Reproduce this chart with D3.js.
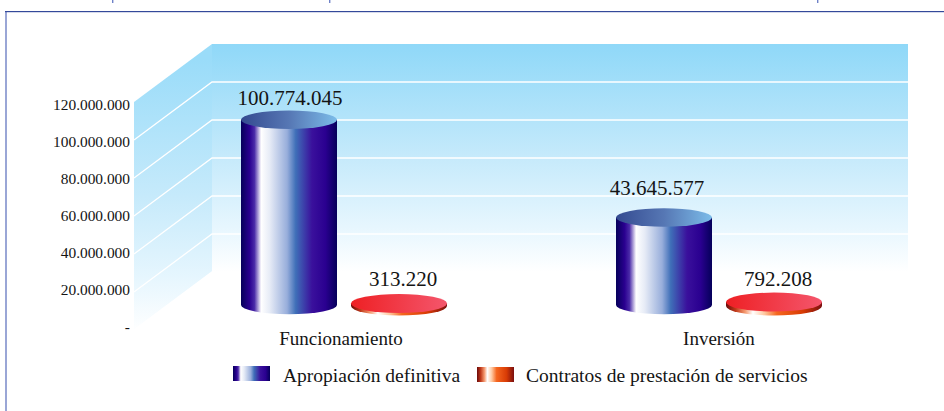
<!DOCTYPE html>
<html><head><meta charset="utf-8">
<script src="https://cdn.jsdelivr.net/npm/d3@7"></script>
<style>html,body{margin:0;padding:0;background:#fff;overflow:hidden}svg{display:block}text{font-family:"Liberation Serif",serif;fill:#141414}</style>
</head><body><svg id="c" width="944" height="411"></svg>
<script>
const categories = ["Funcionamiento", "Inversión"];
const seriesNames = ["Apropiación definitiva", "Contratos de prestación de servicios"];
const apropiacion = [100774045, 43645577];
const contratos = [313220, 792208];
const axisTicks = [0, 20000000, 40000000, 60000000, 80000000, 100000000, 120000000];

const svg = d3.select("#c");
const defs = svg.append("defs");
function grad(id, stops, attrs) {
  const g = defs.append("linearGradient").attr("id", id);
  Object.entries(attrs || {x1:0,y1:0,x2:1,y2:0}).forEach(([k,v]) => g.attr(k,v));
  stops.forEach(([o,c]) => g.append("stop").attr("offset", o).attr("stop-color", c));
}
const blueStops = [[0,"#05005a"],[.09,"#2a0090"],[.14,"#4a2aa8"],[.21,"#ffffff"],[.3,"#e6ebf6"],[.48,"#98aedb"],[.57,"#3f6fb8"],[.74,"#3a109c"],[.88,"#2a0090"],[1,"#05005a"]];
const redStops = [[0,"#6b0a0a"],[.1,"#c0391a"],[.2,"#f59a70"],[.28,"#ffffff"],[.4,"#ffc8a0"],[.53,"#f5661f"],[.8,"#d83b05"],[1,"#7a0f10"]];
grad("blueSide", blueStops);
grad("redSide", redStops);
grad("blueTop", [[0,"#344a90"],[.5,"#5677b4"],[1,"#7cbce9"]]);
grad("redTop", [[0,"#ee2024"],[1,"#f4566c"]]);
grad("backWall", [[0,"#8fd8f8"],[.5,"#c6eafb"],[.8,"#e6f6fe"],[1,"#ffffff"]], {gradientUnits:"userSpaceOnUse",x1:0,y1:44,x2:0,y2:272});
grad("sideWall", [[0,"#9adcf9"],[.5,"#c6eafb"],[.8,"#e6f6fe"],[1,"#ffffff"]], {gradientUnits:"userSpaceOnUse",x1:0,y1:60,x2:0,y2:332});

// page frame and the clipped descenders of the heading above it
svg.append("rect").attr("x",5).attr("y",11).attr("width",2).attr("height",400).attr("fill","#9aa6d6");
svg.append("rect").attr("x",5).attr("y",11).attr("width",939).attr("height",1.2).attr("fill","#34499a");
[112,329,817].forEach(x => svg.append("rect").attr("x",x).attr("y",0).attr("width",1.4).attr("height",3).attr("fill","#6f82c8"));

// walls
const wallLeft = 212, wallRight = 908, depthX = 78, depthY = 58;
const y = d3.scaleLinear().domain([0,120000000]).range([272,44]);
const line = d3.line();
svg.append("rect").attr("x",wallLeft).attr("y",y(120000000)).attr("width",wallRight-wallLeft).attr("height",y(0)-y(120000000)).attr("fill","url(#backWall)");
svg.append("path").attr("d", line([[wallLeft,y(120000000)],[wallLeft,y(0)],[wallLeft-depthX,y(0)+depthY],[wallLeft-depthX,y(120000000)+depthY]])+"Z").attr("fill","url(#sideWall)");
const grid = svg.append("g").attr("fill","none").attr("stroke","#fff").attr("stroke-width",1.3);
axisTicks.slice(0,-1).forEach(t => {
  grid.append("path").attr("d", line([[wallLeft-depthX,y(t)+depthY],[wallLeft,y(t)],[wallRight,y(t)]]));
});

// value axis
const fmt = d3.formatLocale({decimal:",",thousands:".",grouping:[3],currency:["$",""]}).format(",d");
const yLabel = d3.scaleLinear().domain([0,120000000]).range([327,105]);
const ax = svg.append("g").attr("transform","translate(130,0)")
  .call(d3.axisLeft(yLabel).tickValues(axisTicks).tickSize(0).tickPadding(0).tickFormat(d => d===0 ? "-" : fmt(d)));
ax.select(".domain").remove();
ax.selectAll("text").attr("font-size",15.4).style("font-family",'"Liberation Serif",serif').attr("fill","#141414");

// cylinders
const x0 = d3.scaleBand().domain(categories).range([156.5,906.5]);
const hScale = d3.scalePow().exponent(.895).domain([0,120000000]).range([0,216.5]);
const rx = 48;
const seriesShape = [{baseY:305, ry:9.2, extra:0},{baseY:306, ry:9.5, extra:1.5}];
const nudges = [[[1,3],[-7,-4]],[[4,1],[4,2]]];
function cyl(values, sIdx, side, top) {
  const {baseY, ry, extra} = seriesShape[sIdx];
  values.forEach((v,i) => {
    const cx = x0(categories[i]) + x0.bandwidth()/2 + (sIdx===0 ? -55 : 55);
    const yt = baseY - hScale(v) - extra;
    svg.append("path").attr("fill",`url(#${side})`)
      .attr("d",`M${cx-rx},${yt}L${cx-rx},${baseY}A${rx},${ry} 0 0 0 ${cx+rx},${baseY}L${cx+rx},${yt}Z`);
    svg.append("ellipse").attr("cx",cx).attr("cy",yt).attr("rx",rx).attr("ry",ry).attr("fill",`url(#${top})`);
    const n = nudges[sIdx][i];
    svg.append("text").attr("x",cx+n[0]).attr("y",yt-18+n[1]).attr("text-anchor","middle").attr("font-size",21).text(fmt(v));
  });
}
cyl(apropiacion,0,"blueSide","blueTop");
cyl(contratos,1,"redSide","redTop");

// category labels
categories.forEach((c,i) => {
  svg.append("text").attr("x",x0(c)+x0.bandwidth()/2-(i===0?3:0)).attr("y",345).attr("text-anchor","middle").attr("font-size",19).text(c);
});

// legend
const legendX = [233,477], legendFill = ["url(#blueSide)","url(#redSide)"];
seriesNames.forEach((s,i) => {
  svg.append("rect").attr("x",legendX[i]).attr("y",366+i).attr("width",37).attr("height",15).attr("fill",legendFill[i]);
  svg.append("text").attr("x",legendX[i]+(i===0?50:49)).attr("y",382).attr("font-size",19.5).text(s);
});
</script></body></html>
